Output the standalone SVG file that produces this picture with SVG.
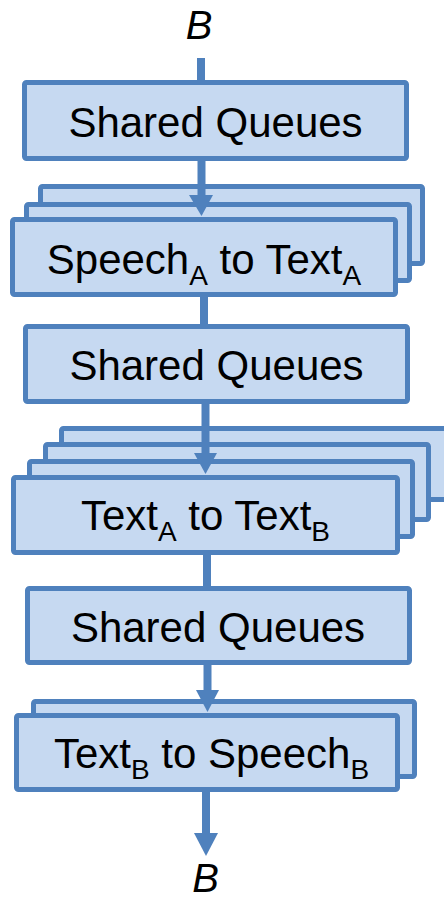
<svg xmlns="http://www.w3.org/2000/svg" width="444" height="901" viewBox="0 0 444 901">
  <style>
    .box { fill: #c6d9f1; stroke: #4f81bd; stroke-width: 5; stroke-linejoin: round; }
    .lbl { font-family: "Liberation Sans", Arial, sans-serif; font-size: 42px; fill: #000; text-anchor: middle; }
    .sub { font-size: 28px; }
    .end { font-family: "Liberation Sans", Arial, sans-serif; font-size: 40px; font-style: italic; fill: #000; text-anchor: middle; }
    .wire { stroke: #4f81bd; stroke-width: 8; fill: none; }
    .head { fill: #4f81bd; }
  </style>

  <!-- endpoint labels -->
  <text class="end" x="199" y="39">B</text>
  <text class="end" x="205.5" y="892">B</text>

  <!-- first shared queue -->
  <g id="queues-1">
    <rect class="box" x="24.5" y="82.5" width="382" height="76" rx="2"/>
    <text class="lbl" x="215.5" y="137">Shared Queues</text>
  </g>

  <!-- speech-to-text workers (stack of 3) -->
  <g id="speech-to-text">
    <rect class="box" x="40.5" y="186.5" width="382" height="77" rx="2"/>
    <rect class="box" x="26.5" y="204.5" width="383" height="76" rx="2"/>
    <rect class="box" x="12.5" y="219.5" width="383" height="75" rx="2"/>
    <text class="lbl" x="204" y="274">Speech<tspan class="sub" dy="11">A</tspan><tspan dy="-11"> to Text</tspan><tspan class="sub" dy="11">A</tspan></text>
  </g>

  <!-- second shared queue -->
  <g id="queues-2">
    <rect class="box" x="25.5" y="326.5" width="382" height="75" rx="2"/>
    <text class="lbl" x="216.5" y="380">Shared Queues</text>
  </g>

  <!-- translation workers (stack of 4) -->
  <g id="text-to-text">
    <rect class="box" x="61.5" y="428.5" width="386" height="71" rx="2"/>
    <rect class="box" x="45.5" y="444.5" width="383" height="75" rx="2"/>
    <rect class="box" x="29.5" y="461.5" width="383" height="75" rx="2"/>
    <rect class="box" x="13.5" y="477.5" width="384" height="75" rx="2"/>
    <text class="lbl" x="205.5" y="530">Text<tspan class="sub" dy="11">A</tspan><tspan dy="-11"> to Text</tspan><tspan class="sub" dy="11">B</tspan></text>
  </g>

  <!-- third shared queue -->
  <g id="queues-3">
    <rect class="box" x="27.5" y="588.5" width="382" height="74" rx="2"/>
    <text class="lbl" x="218" y="642">Shared Queues</text>
  </g>

  <!-- text-to-speech workers (stack of 2) -->
  <g id="text-to-speech">
    <rect class="box" x="33.5" y="701.5" width="381" height="75" rx="2"/>
    <rect class="box" x="16.5" y="715.5" width="381" height="74" rx="2"/>
    <text class="lbl" x="211.5" y="768">Text<tspan class="sub" dy="11">B</tspan><tspan dy="-11"> to Speech</tspan><tspan class="sub" dy="11">B</tspan></text>
  </g>

  <!-- connectors -->
  <g id="connectors">
    <line class="wire" x1="201" y1="58" x2="201" y2="80"/>
    <line class="wire" x1="201.5" y1="161" x2="201.5" y2="197"/>
    <polygon class="head" points="189,195 213,195 201.5,216"/>
    <line class="wire" x1="204" y1="297" x2="204" y2="324"/>
    <line class="wire" x1="205.5" y1="404" x2="205.5" y2="455"/>
    <polygon class="head" points="194,453 217,453 205.5,474"/>
    <line class="wire" x1="207" y1="555" x2="207" y2="586"/>
    <line class="wire" x1="207.5" y1="665" x2="207.5" y2="692"/>
    <polygon class="head" points="196,690 219,690 207.5,712"/>
    <line class="wire" x1="206" y1="792" x2="206" y2="835"/>
    <polygon class="head" points="194,833 218,833 206,856"/>
  </g>
</svg>
